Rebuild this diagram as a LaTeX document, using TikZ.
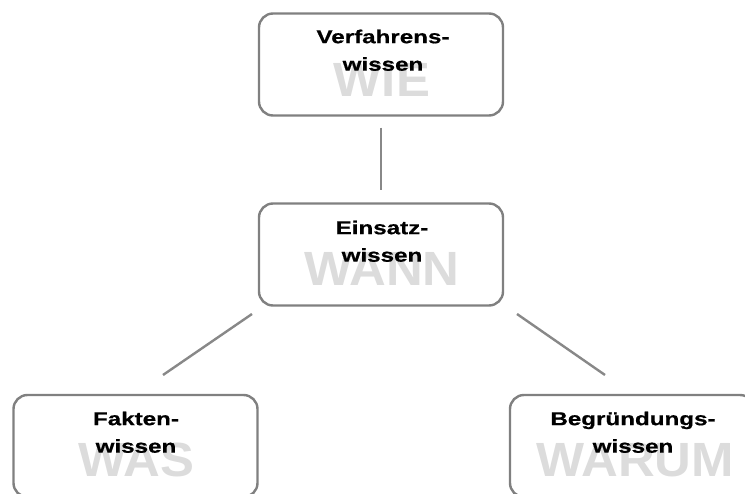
\documentclass[tikz,border=0pt]{standalone}
\usepackage{fontspec}
\newfontfamily\boxfont[FakeStretch=1.3,FakeBold=0.6]{Liberation Sans Bold}
\newfontfamily\wmfont[FakeStretch=1.06]{Liberation Sans Bold}
\usetikzlibrary{calc}
\definecolor{bordergray}{HTML}{808080}
\definecolor{linegray}{HTML}{888888}
\definecolor{wmgray}{HTML}{DCDCDC}
\begin{document}
\begin{tikzpicture}[x=1pt,y=-1pt,
 box/.style={draw=bordergray, line width=2.4pt, rounded corners=14pt, minimum width=244pt, minimum height=102pt, inner sep=0pt, fill=white},
 wm/.style={text=wmgray, font=\wmfont\fontsize{48}{48}\selectfont, inner sep=0pt, anchor=base},
 lbl/.style={font=\boxfont\fontsize{18.6}{27.5}\selectfont, align=center, inner sep=0pt, anchor=north},
 conn/.style={draw=linegray, line width=2.4pt}]
\useasboundingbox (0,0) rectangle (745,494);
\clip (0,0) rectangle (745,494);
% boxes
\node[box] (wie) at (381,64.5) {};
\node[box] (wann) at (381,254.5) {};
\node[box] (was) at (135.5,446) {};
\node[box] (warum) at (632,446) {};
% watermarks
\node[wm] (wieW) at (382,97) {WIE};
\node[wm] (wannW) at (382,286) {WANN};
\node[wm] (wasW) at (136,477) {WAS};
\node[wm] (warumW) at (635,477) {WARUM};
% labels
\node[lbl] (wieT) at (383,29.5) {Verfahrens-\\wissen};
\node[lbl] (wannT) at (382,220.5) {Einsatz-\\wissen};
\node[lbl] (wasT) at (136,411.5) {Fakten-\\wissen};
\node[lbl] (warumT) at (633,411.5) {Begründungs-\\wissen};
% connectors
\draw[conn, shorten <=11pt, shorten >=12pt] (wie.south) -- (wann.north);
\coordinate (l1) at (252,314);
\coordinate (l2) at (163,375);
\coordinate (r1) at (517,314);
\coordinate (r2) at (605,375);
\draw[conn] (l1) -- (l2);
\draw[conn] (r1) -- (r2);
\end{tikzpicture}
\end{document}
